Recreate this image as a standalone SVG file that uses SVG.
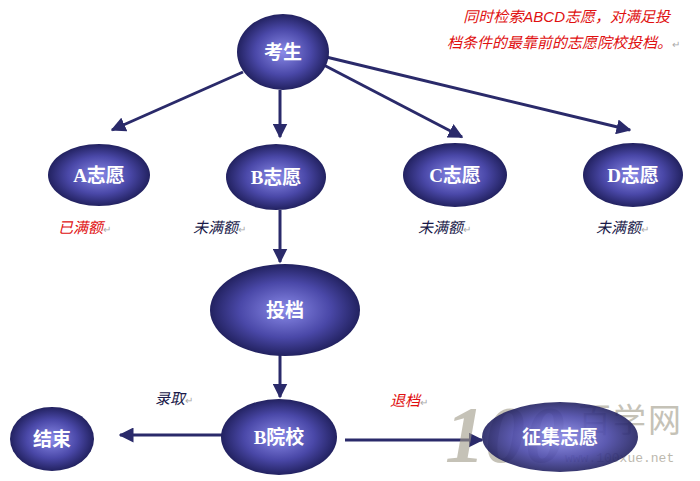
<svg xmlns="http://www.w3.org/2000/svg" width="700" height="481" viewBox="0 0 700 481">
<defs>
<radialGradient id="g" cx="0.5" cy="0.5" r="0.55">
<stop offset="0" stop-color="#8a8ae8"/><stop offset="0.55" stop-color="#4a48a8"/><stop offset="1" stop-color="#18184e"/>
</radialGradient>
<marker id="ah" viewBox="0 0 10 10" refX="9" refY="5" markerWidth="5" markerHeight="5" orient="auto"><path d="M0,0 L10,5 L0,10 z" fill="#2a2a6a"/></marker>
</defs>
<style>
.n{fill:url(#g)}
.t{font-family:"Liberation Serif","Noto Sans CJK SC",serif;font-weight:bold;font-size:19px;fill:#fff;text-anchor:middle}
.c{stroke:#2a2a6a;stroke-width:3;fill:none;marker-end:url(#ah)}
.l{font-family:"Liberation Sans","Noto Sans CJK SC",sans-serif;font-style:italic;font-size:15px;fill:#1a1a4a}
.r{fill:#e01010}
.rt{fill:#aaa;font-size:10px;font-style:normal}
</style>
<rect width="700" height="481" fill="#fff"/>
<text class="l r" font-size="17" text-anchor="end" x="670" y="22">同时检索ABCD志愿，对满足投</text>
<text class="l r" font-size="17" text-anchor="end" x="680" y="48">档条件的最靠前的志愿院校投档。<tspan class="rt">↵</tspan></text>
<g id="connectors">
<line class="c" x1="243" y1="72" x2="112" y2="130"/>
<line class="c" x1="280" y1="90" x2="280" y2="137"/>
<line class="c" x1="318" y1="62" x2="462" y2="137"/>
<line class="c" x1="322" y1="56" x2="630" y2="130"/>
<line class="c" x1="280" y1="210" x2="280" y2="262"/>
<line class="c" x1="280" y1="355" x2="280" y2="397"/>
<line class="c" x1="222" y1="435" x2="120" y2="435"/>
<line class="c" x1="345" y1="440" x2="482" y2="440"/>
</g>
<g id="watermark" opacity="0.6">
<text x="445" y="462" font-family="Liberation Serif,serif" font-style="italic" font-weight="bold" font-size="80" fill="#a09a88">100</text>
<text x="578" y="432" font-family="Noto Sans CJK SC,sans-serif" font-size="33" fill="#a09a88" letter-spacing="2">百学网</text>
<text x="565" y="462" font-family="Liberation Mono,monospace" font-size="13" fill="#908a78">www.100xue.net</text>
</g>
<g id="kaosheng"><ellipse class="n" cx="283" cy="52" rx="46" ry="38"/><text class="t" x="283" y="59">考生</text></g>
<g id="a"><ellipse class="n" cx="99" cy="175" rx="51" ry="31"/><text class="t" x="99" y="182">A志愿</text></g>
<g id="b"><ellipse class="n" cx="276" cy="177" rx="50" ry="33"/><text class="t" x="276" y="184">B志愿</text></g>
<g id="c"><ellipse class="n" cx="455" cy="175" rx="52" ry="32"/><text class="t" x="455" y="182">C志愿</text></g>
<g id="d"><ellipse class="n" cx="633" cy="175" rx="50" ry="32"/><text class="t" x="633" y="182">D志愿</text></g>
<g id="toudang"><ellipse class="n" cx="285" cy="310" rx="75" ry="46"/><text class="t" x="285" y="317">投档</text></g>
<g id="byuanxiao"><ellipse class="n" cx="279" cy="437" rx="58" ry="38"/><text class="t" x="279" y="444">B院校</text></g>
<g id="jieshu"><ellipse class="n" cx="52" cy="439" rx="42" ry="32"/><text class="t" x="52" y="446">结束</text></g>
<g id="zhengji"><ellipse class="n" cx="560" cy="437" rx="78" ry="35" opacity="0.9"/><text class="t" x="560" y="444">征集志愿</text></g>
<g id="labels">
<text class="l r" x="58" y="233">已满额<tspan class="rt">↵</tspan></text>
<text class="l" x="193" y="233">未满额<tspan class="rt">↵</tspan></text>
<text class="l" x="418" y="233">未满额<tspan class="rt">↵</tspan></text>
<text class="l" x="596" y="233">未满额<tspan class="rt">↵</tspan></text>
<text class="l" x="155" y="404">录取<tspan class="rt">↵</tspan></text>
<text class="l r" x="390" y="406">退档<tspan class="rt">↵</tspan></text>
</g>
</svg>
